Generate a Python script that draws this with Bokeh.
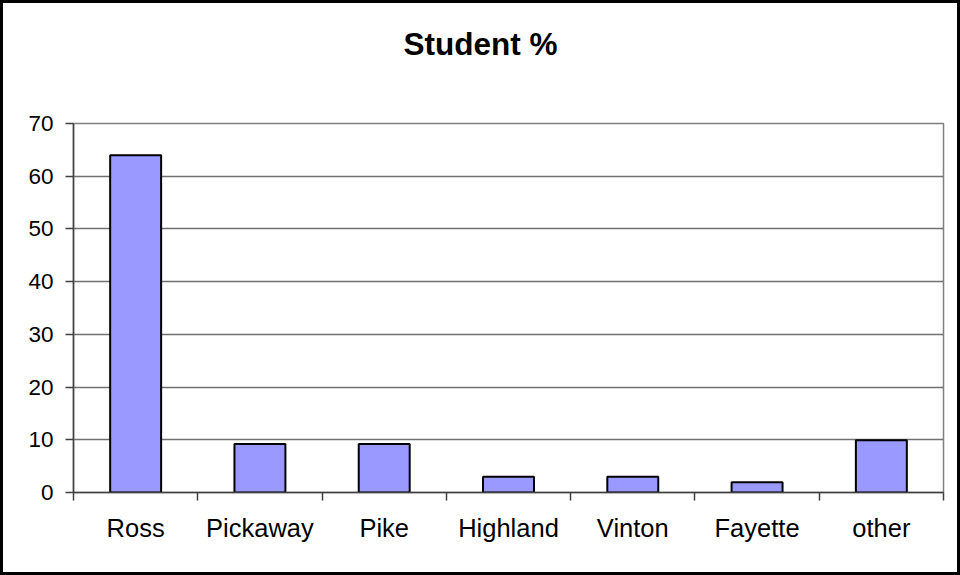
from bokeh.plotting import figure
from bokeh.models import FixedTicker, Range1d, ColumnDataSource, LinearAxis
from bokeh.embed import file_html
from bokeh.resources import INLINE

categories = ["Ross", "Pickaway", "Pike", "Highland", "Vinton", "Fayette", "other"]
values = [64.0, 9.2, 9.2, 3.0, 3.0, 1.95, 9.9]
y_ticks = [0, 10, 20, 30, 40, 50, 60, 70]
title_text = "Student %"

n = len(categories)
centers = [i + 0.5 for i in range(n)]
bounds = list(range(n + 1))
y_max = y_ticks[-1]

p = figure(frame_width=870, frame_height=369, output_backend="svg", toolbar_location=None,
           x_range=Range1d(0, n), y_range=Range1d(0, y_max),
           min_border_left=70, min_border_right=14, min_border_top=120, min_border_bottom=80)

src = ColumnDataSource(dict(x=centers, top=values, cat=categories))
p.vbar(x="x", top="top", bottom=0, width=0.41, source=src,
       fill_color="#9999FF", line_color="black", line_width=2)

# bottom category axis (configured before the spacer is added)
xa = p.below[0]
xa.ticker = FixedTicker(ticks=centers, minor_ticks=bounds)
xa.major_label_overrides = {c: lab for c, lab in zip(centers, categories)}
xa.major_tick_out = 0
xa.major_tick_in = 0
xa.minor_tick_out = 8
xa.minor_tick_in = 0
xa.minor_tick_line_color = "#404040"
xa.minor_tick_line_width = 1.5
xa.major_label_standoff = 13
xa.major_label_text_font = "Liberation Sans"
xa.major_label_text_font_size = "25.5px"
xa.major_label_text_color = "black"
xa.axis_line_color = "#404040"
xa.axis_line_width = 1.5

ya = p.left[0]
ya.ticker = FixedTicker(ticks=y_ticks, minor_ticks=[])
ya.major_tick_out = 8
ya.major_tick_in = 0
ya.major_tick_line_color = "#404040"
ya.major_tick_line_width = 1.5
ya.major_label_standoff = 12
ya.major_label_text_font = "Liberation Sans"
ya.major_label_text_font_size = "22.5px"
ya.major_label_text_color = "black"
ya.axis_line_color = "#404040"
ya.axis_line_width = 1.5

# invisible spacer between plot area and title (one hidden tick, empty label)
spacer = LinearAxis(ticker=FixedTicker(ticks=[0], minor_ticks=[]),
                    major_label_overrides={0: ""},
                    axis_line_color=None, major_tick_line_color=None,
                    minor_tick_line_color=None, major_tick_out=62, major_tick_in=0,
                    minor_tick_out=0, major_label_standoff=0,
                    major_label_text_font_size="1px")
p.add_layout(spacer, "above")

p.title.text = title_text
p.title.align = "left"
p.title.offset = 330
p.title.standoff = 0
p.title.vertical_align = "bottom"
p.title.text_font = "Liberation Sans"
p.title.text_font_size = "31.5px"
p.title.text_font_style = "bold"
p.title.text_color = "black"

p.xgrid.grid_line_color = None
p.ygrid.ticker = FixedTicker(ticks=y_ticks)
p.ygrid.grid_line_color = "#707070"
p.ygrid.grid_line_width = 1.5

p.outline_line_color = "#808080"
p.outline_line_width = 1.5
p.background_fill_color = "white"
p.border_fill_color = "white"

p.styles = {"border": "3px solid black"}

open("out.html", "w").write(file_html(p, INLINE))
